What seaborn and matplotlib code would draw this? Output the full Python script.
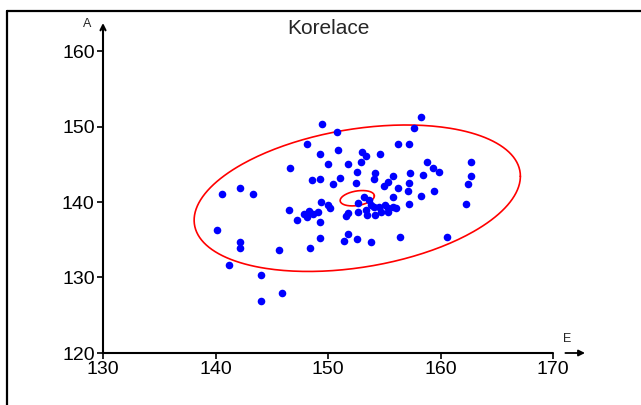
import numpy as np
import pandas as pd
import matplotlib
matplotlib.use("Agg")
import matplotlib.pyplot as plt
from matplotlib.lines import Line2D
import seaborn as sns

# ---- data ----
E = [140.6, 142.2, 143.3, 140.1, 142.2, 142.2, 141.2, 144.0, 145.9, 144.0,
     145.6, 146.6, 146.5, 147.2, 148.4, 149.3, 151.4, 151.8, 152.6, 153.8,
     156.4, 160.6, 149.5, 150.8, 148.1, 149.3, 150.9, 150.0, 151.8, 153.0,
     153.4, 154.6, 152.9, 152.6, 154.2, 155.8, 157.3, 158.4, 158.3, 157.6,
     156.2, 157.2, 158.8, 159.3, 159.9, 162.7, 162.7, 162.4, 162.3, 159.4,
     158.3, 148.6, 149.3, 151.1, 150.4, 152.5, 154.1, 155.3, 155.0, 157.2,
     156.2, 157.1, 155.8, 157.2, 149.4, 150.0, 150.2, 147.9, 148.3, 148.7,
     149.1, 148.1, 149.3, 151.8, 151.6, 152.7, 152.7, 153.2, 153.6, 153.8,
     154.1, 154.5, 155.1, 155.3, 155.8, 156.0, 153.5, 154.2, 155.3, 153.4,
     154.7]
A = [141.1, 141.9, 141.1, 136.3, 134.7, 133.9, 131.7, 130.3, 127.9, 126.9,
     133.6, 144.5, 138.9, 137.6, 133.9, 135.2, 134.8, 135.8, 135.1, 134.7,
     135.4, 135.4, 150.3, 149.3, 147.7, 146.4, 146.9, 145.0, 145.0, 146.6,
     146.1, 146.4, 145.3, 144.0, 143.8, 143.4, 143.8, 143.6, 151.3, 149.8,
     147.7, 147.7, 145.3, 144.5, 144.0, 145.3, 143.4, 142.4, 139.7, 141.5,
     140.8, 142.9, 143.0, 143.2, 142.4, 142.5, 143.0, 142.6, 142.1, 142.5,
     141.9, 141.5, 140.7, 139.7, 140.0, 139.6, 139.2, 138.4, 138.8, 138.4,
     138.7, 138.0, 137.4, 138.5, 138.1, 139.9, 138.7, 140.7, 140.3, 139.6,
     139.3, 139.3, 139.6, 139.2, 139.3, 139.2, 138.3, 138.3, 138.7, 138.9,
     138.7]

x_ticks = [130, 140, 150, 160, 170]
y_ticks = [120, 130, 140, 150, 160]
title_text = "Korelace"
x_name = "E"
y_name = "A"

# ellipse (95 % region)
ell_center = (152.6, 140.5)
ell_half_x = 14.5
ell_half_y = 9.7
ell_r = 0.30

df = pd.DataFrame({"E": E, "A": A})
n = len(df)

sns.set_style("white")
plt.rcParams["font.family"] = ["Liberation Sans", "DejaVu Sans"]

W, H = 641, 405
fig = plt.figure(figsize=(W / 100, H / 100), dpi=100)

x0px, x170px = 103, 553
ppx = (x170px - x0px) / 40.0
y120px, y160px = 353, 51
ppy = (y120px - y160px) / 40.0
xmax = 130 + (585 - x0px) / ppx
ymax = 120 + (y120px - 23) / ppy

ax = fig.add_axes([x0px / W, (H - y120px) / H,
                   (xmax - 130) * ppx / W, (ymax - 120) * ppy / H])

sns.scatterplot(data=df, x="E", y="A", ax=ax, color="#0000ff", s=30,
                linewidth=0, legend=False, zorder=3)

# ellipses
t = np.linspace(0, 2 * np.pi, 300)
for scale in (1.0, 1.0 / np.sqrt(n)):
    ex = ell_center[0] + scale * ell_half_x * np.cos(t)
    ey = ell_center[1] + scale * ell_half_y * (ell_r * np.cos(t) + np.sqrt(1 - ell_r ** 2) * np.sin(t))
    ax.plot(ex, ey, color="#ff0000", lw=1.2, zorder=2)

ax.set_xlim(130, xmax)
ax.set_ylim(120, ymax)
ax.set_xticks(x_ticks)
ax.set_yticks(y_ticks)
ax.set_xlabel("")
ax.set_ylabel("")
for s in ax.spines.values():
    s.set_visible(False)
ax.tick_params(axis="both", direction="out", length=4, width=1.2, labelsize=14,
               pad=2, colors="black", bottom=True, left=True)
ax.patch.set_alpha(0)

# axis lines with arrows
ax.annotate("", xy=(170, 120), xytext=(130, 120),
            arrowprops=dict(arrowstyle="-", lw=1.5, color="black",
                            shrinkA=0, shrinkB=0), annotation_clip=False)
ax.annotate("", xy=(xmax, 120), xytext=(171.1, 120),
            arrowprops=dict(arrowstyle="-|>", lw=1.3, color="black",
                            mutation_scale=9, shrinkA=0, shrinkB=0),
            annotation_clip=False)
ax.annotate("", xy=(130, ymax), xytext=(130, 120),
            arrowprops=dict(arrowstyle="->", lw=1.5, color="black",
                            mutation_scale=9, shrinkA=0, shrinkB=0),
            annotation_clip=False)

ax.text(130 + (567 - x0px) / ppx, 120 + (y120px - 339) / ppy, x_name,
        fontsize=9, ha="center", va="center")
ax.text(130 + (87 - x0px) / ppx, 120 + (y120px - 24) / ppy, y_name,
        fontsize=9, ha="center", va="center")

fig.text(328 / W, 1 - 28 / H, title_text, fontsize=15, ha="center", va="center")

# outer frame (top and left edges visible)
fig.add_artist(Line2D([7 / W, 1.0], [1 - 11 / H, 1 - 11 / H],
                      transform=fig.transFigure, color="black", lw=1.6))
fig.add_artist(Line2D([7 / W, 7 / W], [0.0, 1 - 11 / H],
                      transform=fig.transFigure, color="black", lw=1.6))

fig.savefig("out.png", dpi=100, facecolor="white")
